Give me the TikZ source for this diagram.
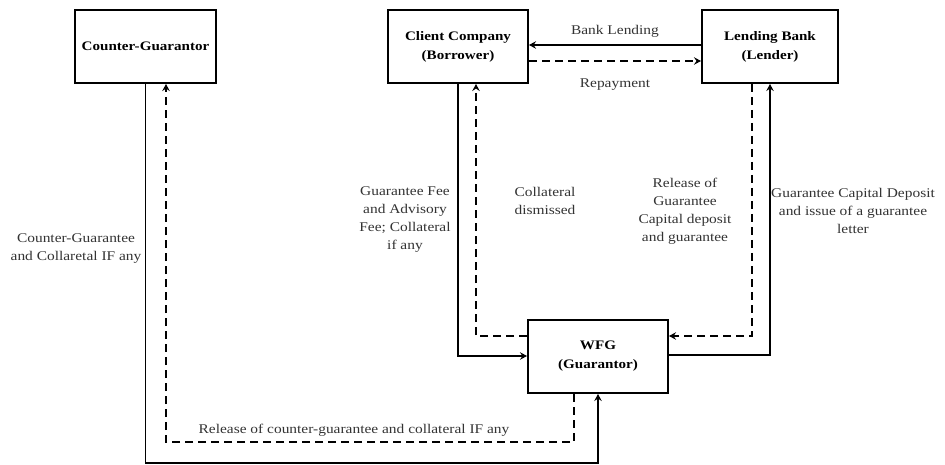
\documentclass[tikz,border=0pt]{standalone}
\usepackage{fontspec}
\setmainfont{Liberation Serif}[FakeStretch=1.16]
\usetikzlibrary{arrows.meta}
\tikzset{
  box/.style={draw, line width=2pt, minimum height=73pt, align=center,
    font=\fontsize{13}{19}\selectfont\bfseries, inner sep=2pt},
  lbl/.style={align=center, text=black!80, font=\fontsize{13.3}{18}\selectfont, inner sep=1pt},
  conn/.style={line width=1.9pt, -{Stealth[length=7pt,width=7.5pt,inset=2.5pt]}},
  dconn/.style={conn, dash pattern=on 8pt off 5pt}
}
\begin{document}
\begin{tikzpicture}[x=1pt,y=-1pt]
\useasboundingbox (0,0) rectangle (945,465);
\node[box, minimum width=141pt] (cg) at (145.5,46.5) {Counter-Guarantor};
\node[box, minimum width=140pt] (cc) at (458,46.5) {Client Company\\(Borrower)};
\node[box, minimum width=136pt] (lb) at (770,46.5) {Lending Bank\\(Lender)};
\node[box, minimum width=140pt] (wfg) at (598,356.5) {WFG\\(Guarantor)};

\draw[conn] (lb.west |- 0,45) -- (cc.east |- 0,45)
  node[lbl, midway, above=6pt] (bl) {Bank Lending};
\draw[dconn] (cc.east |- 0,61) -- (lb.west |- 0,61)
  node[lbl, midway, below=16pt] (rp) {Repayment};

\draw[conn] (cc.south) |- (wfg.west |- 0,356);
\draw[dconn] (wfg.west |- 0,336) -| (cc.south -| 476,0);
\draw[conn] (wfg.east |- 0,355) -| (lb.south);
\draw[dconn] (lb.south -| 752,0) |- (wfg.east |- 0,336);
\draw[conn] (cg.south) -- (cg.south |- 0,463) -| (wfg.south);
\draw[dconn] (wfg.south -| 574,0) -- (574,442) -| (cg.south -| 166,0);

\node[lbl] (l1) at (76,249) {Counter-Guarantee\\and Collaretal IF any};
\node[lbl] (l2) at (405,220) {Guarantee Fee\\and Advisory\\Fee; Collateral\\if any};
\node[lbl] (l3) at (545,201) {Collateral\\dismissed};
\node[lbl] (l4) at (685,211) {Release of\\Guarantee\\Capital deposit\\and guarantee};
\node[lbl] (l5) at (853,211) {Guarantee Capital Deposit\\and issue of a guarantee\\letter};
\node[lbl] (l6) at (354,430) {Release of counter-guarantee and collateral IF any};
\end{tikzpicture}
\end{document}
